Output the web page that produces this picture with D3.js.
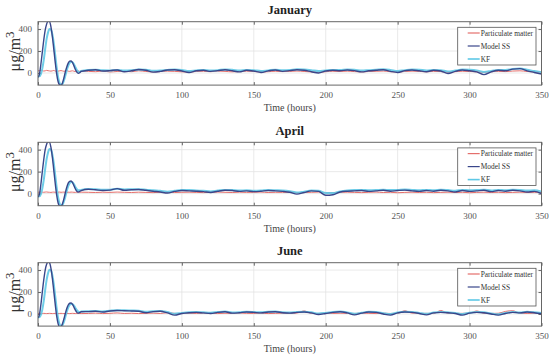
<!DOCTYPE html>
<html><head><meta charset="utf-8">
<script src="https://cdn.jsdelivr.net/npm/d3@7"></script>
<style>body{margin:0;background:#fff}svg{display:block}text{font-family:"Liberation Serif","DejaVu Serif",serif}</style>
</head><body><svg id="c" width="550" height="357"></svg>
<script>
const hours = [0,1,2,3,4,5,6,7,8,9,10,11,12,13,14,15,16,17,18,19,20,21,22,23,24,25,26,27,28,29,30,
35,40,45,50,55,60,65,70,75,80,85,90,95,100,105,110,115,120,125,130,135,140,145,150,155,160,165,170,175,180,185,190,195,200,205,210,215,220,225,230,235,240,245,250,255,260,265,270,275,280,285,290,295,300,305,310,315,320,325,330,335,340,345,350];
const months = ["January","April","June"];
const seriesNames = ["Particulate matter","Model SS","KF"];
const xTicks = [0,50,100,150,200,250,300,350];
const yTicks = [0,200,400];

const janPM = [20,22,25,22,18,20,24,21,19,17,20,23,18,15,17,20,22,19,16,18,21,17,15,18,20,16,14,17,19,15,18,
15,12,18,10,14,16,12,20,14,10,13,17,15,11,9,14,16,12,18,15,11,13,17,14,10,12,16,13,15,18,14,10,8,12,16,14,17,13,10,14,16,18,12,9,14,17,15,11,15,13,8,12,16,14,11,6,12,15,13,18,20,14,10,8];
const janSS = [-40,-10,80,190,300,390,445,470,468,420,330,215,95,-10,-80,-108,-112,-90,-45,10,55,90,108,110,95,65,32,8,-3,2,15,
25,30,18,22,28,12,20,32,25,8,15,28,30,18,5,20,25,15,22,30,20,10,25,18,5,20,28,15,22,30,25,12,0,18,25,20,28,22,10,20,25,30,15,5,22,28,20,12,25,18,-5,15,28,20,10,-15,10,25,20,35,40,20,5,-10];
const janKF = [-30,-30,-10,40,120,220,310,370,400,395,350,270,160,50,-40,-90,-105,-100,-70,-25,25,65,92,102,98,80,52,28,12,10,18,
28,30,25,24,28,22,25,32,30,20,22,28,32,28,18,24,28,24,26,32,30,22,28,26,18,24,30,26,28,34,32,26,18,24,28,28,32,30,22,26,30,34,28,18,26,32,30,24,28,26,14,22,32,30,24,10,18,28,28,36,40,30,18,8];

const aprPM = [12,14,15,13,12,14,15,13,12,11,13,14,12,11,13,14,12,13,14,12,11,13,12,14,13,12,11,13,14,12,13,
12,10,13,11,14,12,10,13,11,9,12,14,10,12,13,11,9,12,14,12,10,13,11,12,14,10,12,11,13,9,10,12,14,8,10,12,13,11,9,12,14,10,12,8,11,13,10,12,9,11,13,10,12,8,11,13,10,12,9,11,13,10,12,10];
const aprSS = [-30,-5,85,200,310,400,450,472,468,420,330,210,90,-15,-85,-112,-115,-92,-48,8,58,95,112,115,100,72,42,22,15,20,28,
40,35,28,32,45,30,35,38,30,22,15,5,20,28,25,22,18,10,22,30,28,20,25,18,22,28,25,20,12,-5,10,25,20,-15,-10,15,22,25,28,20,25,30,22,28,32,25,20,28,22,30,25,15,28,20,25,30,18,28,22,30,25,15,20,0];
const aprKF = [-25,-25,-5,45,125,225,315,375,405,400,355,275,165,55,-35,-88,-105,-102,-72,-28,25,68,96,106,102,85,60,40,30,30,34,
42,40,35,36,44,38,40,40,36,30,25,18,25,32,32,28,25,20,28,34,32,28,30,26,28,32,30,28,22,10,18,28,26,5,5,20,28,32,34,30,32,36,32,34,38,34,30,34,30,36,32,26,34,30,32,36,28,34,30,36,34,28,30,18];

const junPM = [5,6,5,4,6,5,4,5,6,5,4,5,6,5,4,5,6,5,4,5,6,5,4,5,6,5,4,5,6,5,4,
5,8,4,6,10,5,7,4,6,8,5,12,6,4,7,5,8,6,4,7,5,9,6,5,8,4,6,7,5,9,28,6,4,8,5,7,6,5,8,6,4,7,5,6,30,8,5,6,4,32,7,5,6,8,28,6,5,7,24,30,8,5,7,4];
const junSS = [-35,-5,85,200,310,400,452,472,466,415,325,205,85,-20,-90,-115,-112,-88,-45,5,50,82,98,100,88,62,35,15,8,12,20,
22,25,18,28,32,30,28,25,12,22,25,10,-10,5,12,15,10,5,15,20,8,12,18,15,10,18,20,12,8,15,18,10,-5,5,15,20,10,-8,8,18,15,0,-10,10,18,15,5,-8,10,15,12,5,-10,8,15,12,0,-10,5,15,10,18,12,2];
const junKF = [-30,-28,-8,40,120,220,310,372,402,398,352,270,160,50,-40,-92,-108,-102,-72,-28,20,58,82,92,90,76,55,35,22,18,22,
25,28,24,30,34,34,32,30,20,25,28,18,2,10,16,18,15,12,18,22,14,16,20,18,15,20,22,16,14,18,20,15,5,10,18,22,15,2,12,20,18,8,0,14,20,18,10,2,14,18,15,10,0,12,18,15,5,-2,10,18,14,20,15,8];

const panelsData = [[janPM,janSS,janKF],[aprPM,aprSS,aprKF],[junPM,junSS,junKF]];
const colors = ["#e46f6c","#39468a","#5ec8e6"];
const widths = [1,1.4,2];

const svg = d3.select("#c");
const L = 38, R = 541.5, H = 63.4;
const tops = [21.7, 142.3, 262.7];
const x = d3.scaleLinear().domain([0,350]).range([L,R]);

panelsData.forEach((ser, i) => {
  const top = tops[i], bot = top + H;
  const y = d3.scaleLinear().domain([-110,467]).range([bot, top]);
  const g = svg.append("g");
  g.selectAll(".gx").data(xTicks).join("line").attr("x1",d=>x(d)).attr("x2",d=>x(d)).attr("y1",top).attr("y2",bot).attr("stroke","#e3e3e3").attr("stroke-width",0.8);
  g.selectAll(".gy").data(yTicks).join("line").attr("x1",L).attr("x2",R).attr("y1",d=>y(d)).attr("y2",d=>y(d)).attr("stroke","#e3e3e3").attr("stroke-width",0.8);
  const xb = g.append("g").attr("transform",`translate(0,${bot})`).call(d3.axisBottom(x).tickValues(xTicks).tickSizeInner(-3).tickSizeOuter(0).tickPadding(7));
  const xt = g.append("g").attr("transform",`translate(0,${top})`).call(d3.axisTop(x).tickValues(xTicks).tickSizeInner(-3).tickSizeOuter(0).tickFormat(""));
  const yl = g.append("g").attr("transform",`translate(${L},0)`).call(d3.axisLeft(y).tickValues(yTicks).tickSizeInner(-3).tickSizeOuter(0).tickPadding(6));
  const yr = g.append("g").attr("transform",`translate(${R},0)`).call(d3.axisRight(y).tickValues(yTicks).tickSizeInner(-3).tickSizeOuter(0).tickFormat(""));
  [xb,xt,yl,yr].forEach(a=>{a.select(".domain").remove();a.selectAll("line").attr("stroke","#666");a.selectAll("text").attr("fill","#555").attr("font-size","9px").attr("font-family","Liberation Serif, serif");});
  const cid = "clip"+i;
  svg.append("clipPath").attr("id",cid).append("rect").attr("x",L).attr("y",top).attr("width",R-L).attr("height",H);
  const line = d3.line().x((d,k)=>x(hours[k])).y(d=>y(d)).curve(d3.curveMonotoneX);
  const lg = g.append("g").attr("clip-path",`url(#${cid})`);
  [0,2,1].forEach(s=>{
    lg.append("path").datum(ser[s]).attr("d",line).attr("fill","none").attr("stroke",colors[s]).attr("stroke-width",widths[s]).attr("opacity",s===2?0.9:1).attr("stroke-linejoin","round");
  });
  g.append("rect").attr("x",L).attr("y",top).attr("width",R-L).attr("height",H).attr("fill","none").attr("stroke","#666").attr("stroke-width",1);
  g.append("text").attr("x",(L+R)/2).attr("y",top-7.5).attr("text-anchor","middle").attr("font-size","12.5px").attr("font-weight","bold").attr("fill","#222").text(months[i]);
  g.append("text").attr("x",(L+R)/2).attr("y",bot+26).attr("text-anchor","middle").attr("font-size","10px").attr("fill","#444").text("Time (hours)");
  const yt = g.append("text").attr("transform",`translate(20,${top+H/2-2}) rotate(-90)`).attr("text-anchor","middle").attr("font-size","16px").attr("fill","#333");
  yt.append("tspan").text("μg/m");
  yt.append("tspan").attr("dy","-6").attr("font-size","13px").text("3");
  const lx = 457.7, ly = top + 5.6;
  g.append("rect").attr("x",lx).attr("y",ly).attr("width",78.3).attr("height",37.7).attr("fill","#fff").attr("stroke","#555").attr("stroke-width",0.8);
  seriesNames.forEach((n,s)=>{
    const yy = ly + 5.7 + s*13;
    g.append("line").attr("x1",lx+10).attr("x2",lx+22).attr("y1",yy).attr("y2",yy).attr("stroke",colors[s]).attr("stroke-width",s===2?1.6:1.2);
    g.append("text").attr("x",lx+23).attr("y",yy+2.8).attr("font-size","7.4px").attr("fill","#333").text(n);
  });
});
</script></body></html>
